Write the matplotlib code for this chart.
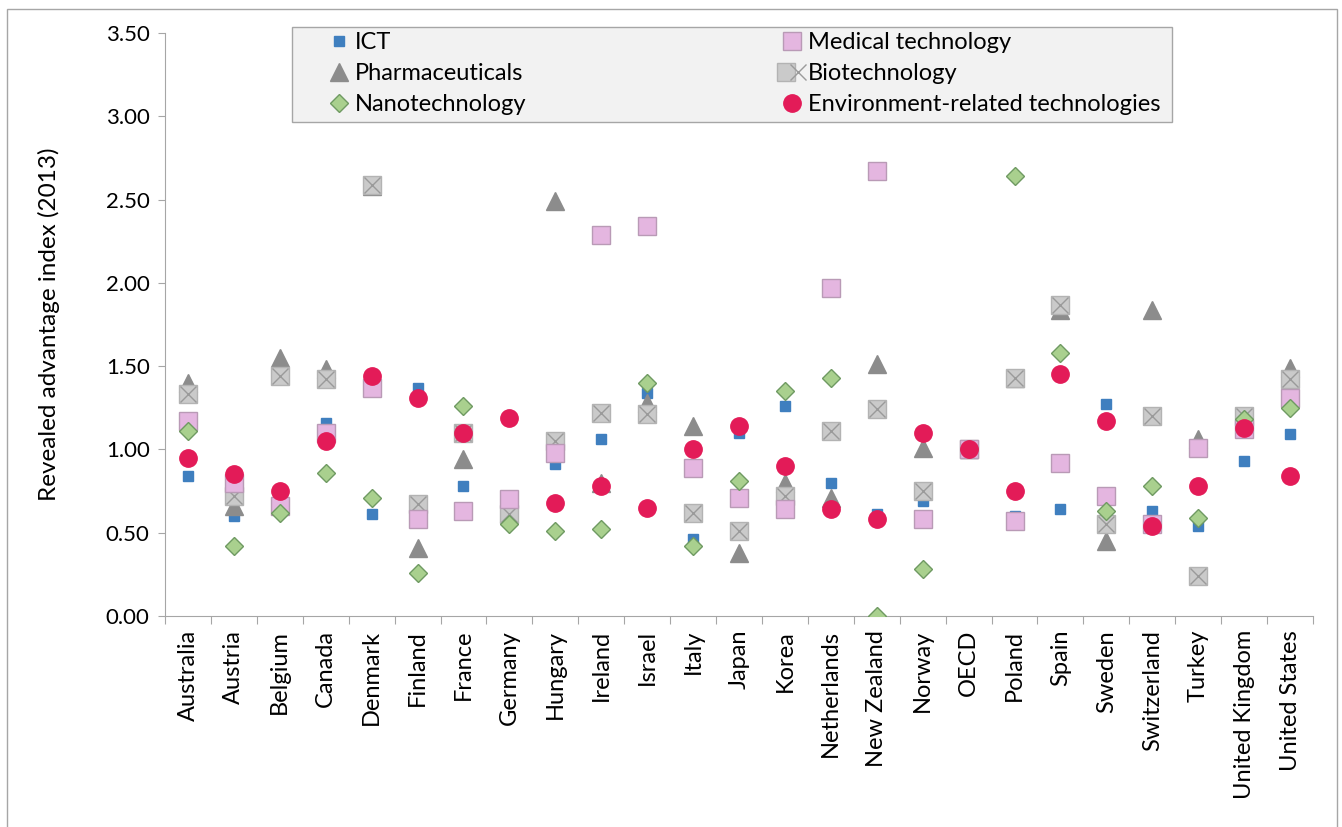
import matplotlib
matplotlib.use("Agg")
import matplotlib.pyplot as plt
from matplotlib.legend_handler import HandlerTuple
from matplotlib.patches import Rectangle
import numpy as np

# categories and series values (revealed advantage index, 2013)
countries = ["Australia", "Austria", "Belgium", "Canada", "Denmark", "Finland", "France",
             "Germany", "Hungary", "Ireland", "Israel", "Italy", "Japan", "Korea",
             "Netherlands", "New Zealand", "Norway", "OECD", "Poland", "Spain", "Sweden",
             "Switzerland", "Turkey", "United Kingdom", "United States"]

ict = [0.84, 0.60, 0.69, 1.16, 0.61, 1.37, 0.78, 0.60, 0.91, 1.06, 1.34, 0.46, 1.10,
       1.26, 0.80, 0.61, 0.69, 1.00, 0.60, 0.64, 1.27, 0.63, 0.54, 0.93, 1.09]
medical = [1.17, 0.80, 0.66, 1.10, 1.37, 0.58, 0.63, 0.70, 0.98, 2.29, 2.34, 0.89, 0.71,
           0.64, 1.97, 2.67, 0.58, 1.00, 0.57, 0.92, 0.72, 0.55, 1.01, 1.12, 1.31]
pharma = [1.40, 0.66, 1.55, 1.48, 2.58, 0.41, 0.94, 0.62, 2.49, 0.80, 1.28, 1.14, 0.38,
          0.80, 0.71, 1.51, 1.01, 1.00, 1.43, 1.84, 0.45, 1.84, 1.06, 1.18, 1.49]
biotech = [1.33, 0.72, 1.44, 1.42, 2.59, 0.67, 1.10, 0.61, 1.05, 1.22, 1.21, 0.62, 0.51,
           0.72, 1.11, 1.24, 0.75, 1.00, 1.43, 1.87, 0.55, 1.20, 0.24, 1.20, 1.42]
nano = [1.11, 0.42, 0.62, 0.86, 0.71, 0.26, 1.26, 0.55, 0.51, 0.52, 1.40, 0.42, 0.81,
        1.35, 1.43, 0.00, 0.28, 1.00, 2.64, 1.58, 0.63, 0.78, 0.59, 1.18, 1.25]
env = [0.95, 0.85, 0.75, 1.05, 1.44, 1.31, 1.10, 1.19, 0.68, 0.78, 0.65, 1.00, 1.14,
       0.90, 0.64, 0.58, 1.10, 1.00, 0.75, 1.45, 1.17, 0.54, 0.78, 1.13, 0.84]

plt.rcParams['font.family'] = ['Lato', 'DejaVu Sans']

W, H = 1342, 827
fig = plt.figure(figsize=(W / 100, H / 100), dpi=100)
fig.patches.append(Rectangle((7 / W, -0.01), 1330 / W, 1 - 9 / H + 0.01,
                             transform=fig.transFigure, fill=False,
                             edgecolor="#a6a6a6", linewidth=1.0))

ax_l, ax_r, ax_t, ax_b = 165, 1313, 33, 616
ax = fig.add_axes([ax_l / W, 1 - ax_b / H, (ax_r - ax_l) / W, (ax_b - ax_t) / H])


def px(xp, yp):
    # figure pixel (from top-left) -> axes fraction
    return (xp - ax_l) / (ax_r - ax_l), (ax_b - yp) / (ax_b - ax_t)


x = np.arange(len(countries))

h_ict, = ax.plot(x, ict, ls="none", marker="s", ms=7, mfc="#3f7fbf", mec="#3f7fbf", zorder=3)
h_ph, = ax.plot(x, pharma, ls="none", marker="^", ms=13, mfc="#8c8c8c", mec="#8c8c8c", zorder=4)
h_bs, = ax.plot(x, biotech, ls="none", marker="s", ms=13, mfc="#cacaca", mec="#b3b3b3",
                mew=1, zorder=5)
h_bx, = ax.plot(x, biotech, ls="none", marker="x", ms=12, mec="#9a9a9a", mew=1, zorder=5.1)
h_med, = ax.plot(x, medical, ls="none", marker="s", ms=12.5, mfc="#e4b6e0", mec="#b99ab6",
                 mew=1, zorder=6)
h_nano, = ax.plot(x, nano, ls="none", marker="D", ms=9.5, mfc="#a9d08e", mec="#6f9a62",
                  mew=1, zorder=7)
h_env, = ax.plot(x, env, ls="none", marker="o", ms=12.5, mfc="#e31b58", mec="#e31b58", zorder=8)

ax.set_xlim(-0.5, len(countries) - 0.5)
ax.set_ylim(0, 3.5)
yt = np.arange(0, 3.51, 0.5)
ax.set_yticks(yt)
ax.set_yticklabels([f"{v:.2f}" for v in yt], fontsize=16)
ax.set_xticks(np.arange(-0.5, len(countries), 1))
ax.set_xticklabels([])
ax.set_xticks(x, minor=True)
ax.set_xticklabels(countries, minor=True, rotation=90, fontsize=17)
ax.tick_params(axis="x", which="major", length=6, color="#a6a6a6", direction="out")
ax.tick_params(axis="x", which="minor", length=0, pad=10)
ax.tick_params(axis="y", length=5, color="#a6a6a6", direction="out", pad=6)

for side in ["top", "right"]:
    ax.spines[side].set_visible(False)
for side in ["left", "bottom"]:
    ax.spines[side].set_color("#a6a6a6")

ax.set_ylabel("Revealed advantage index (2013)", fontsize=17.5, labelpad=33)

# legend box
bx0, by0 = px(292, 122)
bx1, by1 = px(1172, 27)
ax.add_patch(Rectangle((bx0, by0), bx1 - bx0, by1 - by0, transform=ax.transAxes,
                       facecolor="#f2f2f2", edgecolor="#a6a6a6", linewidth=1.0,
                       zorder=9, clip_on=False))

leg_kw = dict(loc="upper left", fontsize=17, frameon=False, borderaxespad=0, borderpad=0,
              handletextpad=0.2, handlelength=1.0, labelspacing=0.42,
              handler_map={tuple: HandlerTuple(ndivide=None, pad=0)})
leg1 = ax.legend([h_ict, h_ph, h_nano], ["ICT", "Pharmaceuticals", "Nanotechnology"],
                 bbox_to_anchor=px(327, 32), **leg_kw)
leg1.set_zorder(10)
ax.add_artist(leg1)
leg2 = ax.legend([h_med, (h_bs, h_bx), h_env],
                 ["Medical technology", "Biotechnology", "Environment-related technologies"],
                 bbox_to_anchor=px(780, 32), **leg_kw)
leg2.set_zorder(10)

fig.savefig("out.png", dpi=100)
